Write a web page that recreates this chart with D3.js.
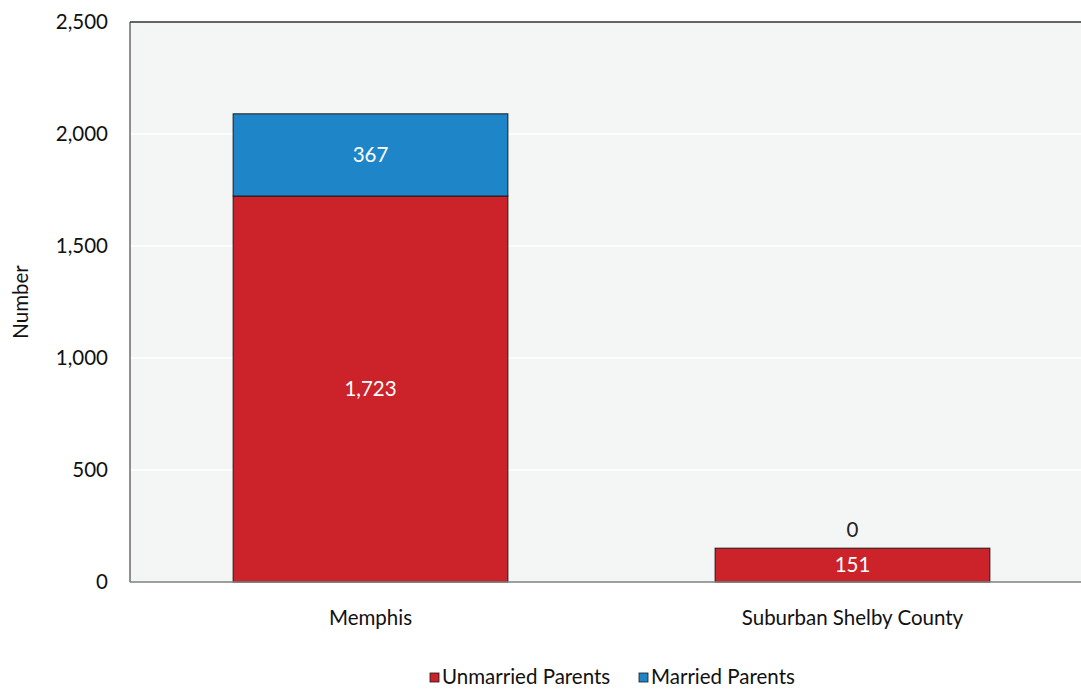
<!DOCTYPE html>
<html><head><meta charset="utf-8">
<script src="https://cdn.jsdelivr.net/npm/d3@7"></script>
<style>body{margin:0;background:#fff}svg{display:block}text{font-family:Lato,"Noto Sans",sans-serif}</style>
</head><body><svg id="c" width="1081" height="690"></svg>
<script>
const categories = ["Memphis", "Suburban Shelby County"];
const seriesNames = ["Unmarried Parents", "Married Parents"];
const unmarried = [1723, 151];
const married = [367, 0];
const yTicks = [0, 500, 1000, 1500, 2000, 2500];
const colors = ["#cc2229", "#1e86c8"];

const svg = d3.select("#c");
const L = 130, T = 22, B = 582, R = 1093;
const FS = 20.5;
const x = d3.scaleBand().domain(categories).range([L, R]).paddingInner(0.43).paddingOuter(0.214);
const y = d3.scaleLinear().domain([0, 2500]).range([B, T]);

svg.append("rect").attr("x", L).attr("y", T).attr("width", 1081 - L).attr("height", B - T).attr("fill", "#f4f6f5");
svg.append("g").selectAll("line").data(yTicks.slice(1, -1)).join("line")
  .attr("x1", L).attr("x2", 1081).attr("y1", d => y(d)).attr("y2", d => y(d))
  .attr("stroke", "#ffffff").attr("stroke-width", 1.5);

const fmt = d3.format(",");
const data = categories.map((c, i) => ({c, vals: [unmarried[i], married[i]]}));
const stack = d3.stack().keys([0, 1]).value((d, k) => d.vals[k]);
const layers = stack(data);

layers.forEach((layer, k) => {
  svg.append("g").selectAll("rect").data(layer).join("rect")
    .attr("x", d => x(d.data.c)).attr("width", x.bandwidth())
    .attr("y", d => y(d[1])).attr("height", d => y(d[0]) - y(d[1]))
    .attr("fill", colors[k]).attr("stroke", "#1a1a1a").attr("stroke-width", 1)
    .style("display", d => d[1] - d[0] > 0 ? null : "none");
});
layers.forEach((layer, k) => {
  svg.append("g").selectAll("text").data(layer).join("text")
    .attr("x", d => x(d.data.c) + x.bandwidth() / 2)
    .attr("y", d => d[1] - d[0] > 0 ? (y(d[0]) + y(d[1])) / 2 : y(d[1]) - 18)
    .attr("dy", "0.35em").attr("text-anchor", "middle").attr("font-size", FS)
    .attr("fill", d => d[1] - d[0] > 0 ? "#ffffff" : "#222")
    .text(d => fmt(d[1] - d[0]));
});

// axes
svg.append("line").attr("x1", L).attr("x2", L).attr("y1", T).attr("y2", B).attr("stroke", "#222").attr("stroke-width", 1);
svg.append("line").attr("x1", L).attr("x2", 1081).attr("y1", T).attr("y2", T).attr("stroke", "#333").attr("stroke-width", 1.5);
svg.append("line").attr("x1", L).attr("x2", 1081).attr("y1", B).attr("y2", B).attr("stroke", "#808080").attr("stroke-width", 1.5);

svg.append("g").selectAll("text").data(yTicks).join("text")
  .attr("x", 108).attr("y", d => y(d)).attr("dy", "0.35em").attr("text-anchor", "end")
  .attr("font-size", FS).attr("fill", "#111").text(d => fmt(d));

svg.append("g").selectAll("text").data(categories).join("text")
  .attr("x", d => x(d) + x.bandwidth() / 2).attr("y", 618).attr("dy", "0.35em")
  .attr("text-anchor", "middle").attr("font-size", FS).attr("fill", "#111").text(d => d);

svg.append("text").attr("transform", "translate(21,302) rotate(-90)").attr("text-anchor", "middle")
  .attr("dy", "0.35em").attr("font-size", 20.5).attr("fill", "#111").text("Number");

// legend
const legX = [430, 639];
seriesNames.forEach((s, i) => {
  svg.append("rect").attr("x", legX[i]).attr("y", 673).attr("width", 9).attr("height", 9)
    .attr("fill", colors[i]).attr("stroke", "#1a1a1a").attr("stroke-width", 0.8);
  svg.append("text").attr("x", legX[i] + 12).attr("y", 682).attr("dy", "0.12em")
    .attr("font-size", FS).attr("fill", "#111").text(s);
});
</script></body></html>
